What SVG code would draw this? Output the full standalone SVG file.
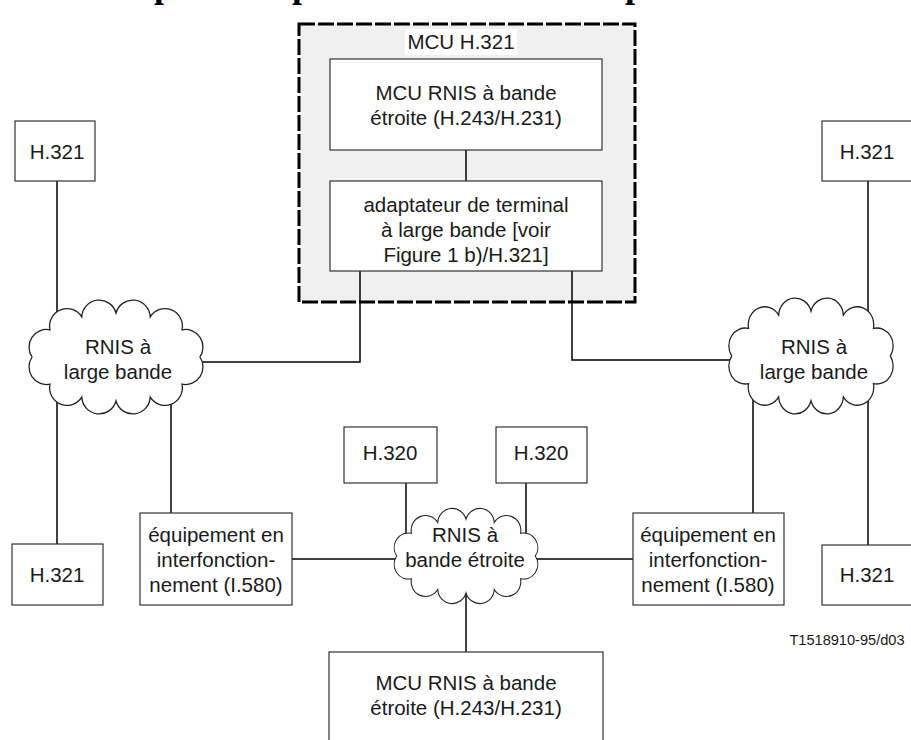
<svg xmlns="http://www.w3.org/2000/svg" width="911" height="740" viewBox="0 0 911 740">
  <style>
    .lbl { font-family: "Liberation Sans", Arial, sans-serif; font-size: 20.5px; fill: #1a1a1a; text-anchor: middle; }
    .small { font-family: "Liberation Sans", Arial, sans-serif; font-size: 14.6px; fill: #1a1a1a; text-anchor: middle; }
    .box { fill: #ffffff; stroke: #333333; stroke-width: 1.2; }
    .wire { fill: none; stroke: #000000; stroke-width: 1.5; }
    .cloud { fill: #ffffff; stroke: #222222; stroke-width: 1.2; }
    .title { font-family: "Liberation Serif", "Times New Roman", serif; font-size: 36px; font-weight: bold; fill: #000000; }
  </style>
  <defs>
    <!-- generic cloud outline centred on the origin, about 172 x 104 -->
    <path id="cloudShape" d="M77 0
      a16 16 0 0 1 -16.4 24.7
      a16 16 0 0 1 -29.2 11.8
      a16 16 0 0 1 -31.4 3.5
      a16 16 0 0 1 -31.4 -3.5
      a16 16 0 0 1 -29.2 -11.8
      a16 16 0 0 1 -16.4 -24.7
      a16 16 0 0 1 16.4 -24.7
      a16 16 0 0 1 29.2 -11.8
      a16 16 0 0 1 31.4 -3.5
      a16 16 0 0 1 31.4 3.5
      a16 16 0 0 1 29.2 11.8
      a16 16 0 0 1 16.4 24.7 Z"/>
  </defs>
  <rect width="911" height="740" fill="#ffffff"/>

  <!-- descenders of the page heading, cut by the top edge -->
  <g id="heading">
    <text class="title" x="154" y="-3">p</text>
    <text class="title" x="292" y="-3">p</text>
    <text class="title" x="625" y="-3">p</text>
  </g>

  <!-- H.321 MCU enclosure -->
  <g id="mcu-h321">
    <rect x="299" y="24" width="336" height="278" fill="#f0f0f0" stroke="#000000" stroke-width="3" stroke-dasharray="16 3"/>
    <rect x="405" y="29" width="112" height="26" fill="#ffffff"/>
    <text class="lbl" x="461" y="49">MCU H.321</text>
  </g>

  <!-- connectors -->
  <g id="connectors">
    <line class="wire" x1="466" y1="150" x2="466" y2="181"/>
    <polyline class="wire" points="360,271 360,362 190,362"/>
    <polyline class="wire" points="572,271 572,360 740,360"/>
    <line class="wire" x1="57" y1="181" x2="57" y2="544"/>
    <line class="wire" x1="868" y1="181" x2="868" y2="545"/>
    <line class="wire" x1="171" y1="395" x2="171" y2="513"/>
    <line class="wire" x1="753" y1="395" x2="753" y2="513"/>
    <line class="wire" x1="292" y1="559" x2="400" y2="559"/>
    <line class="wire" x1="530" y1="559" x2="633" y2="559"/>
    <line class="wire" x1="406" y1="483" x2="406" y2="540"/>
    <line class="wire" x1="526" y1="483" x2="526" y2="540"/>
    <line class="wire" x1="466" y1="590" x2="466" y2="652"/>
  </g>

  <g id="mcu-nb-inner">
    <rect class="box" x="330" y="59" width="272" height="91"/>
    <text class="lbl" x="466" y="100">MCU RNIS à bande</text>
    <text class="lbl" x="466" y="125">étroite (H.243/H.231)</text>
  </g>

  <g id="ta-broadband">
    <rect class="box" x="330" y="181" width="272" height="90"/>
    <text class="lbl" x="466" y="212">adaptateur de terminal</text>
    <text class="lbl" x="466" y="237">à large bande [voir</text>
    <text class="lbl" x="466" y="262">Figure 1 b)/H.321]</text>
  </g>

  <g id="h321-top-left">
    <rect class="box" x="15" y="121" width="80" height="60"/>
    <text class="lbl" x="57" y="159">H.321</text>
  </g>

  <g id="h321-top-right">
    <rect class="box" x="822" y="121" width="92" height="60"/>
    <text class="lbl" x="867" y="159">H.321</text>
  </g>

  <g id="h321-bottom-left">
    <rect class="box" x="12" y="544" width="91" height="61"/>
    <text class="lbl" x="57" y="582">H.321</text>
  </g>

  <g id="h321-bottom-right">
    <rect class="box" x="822" y="545" width="92" height="60"/>
    <text class="lbl" x="867" y="582">H.321</text>
  </g>

  <g id="cloud-bb-left">
    <use href="#cloudShape" class="cloud" transform="translate(116 357) scale(1.09 1.1)"/>
    <text class="lbl" x="118" y="354">RNIS à</text>
    <text class="lbl" x="118" y="379">large bande</text>
  </g>

  <g id="cloud-bb-right">
    <use href="#cloudShape" class="cloud" transform="translate(811 356) scale(1.03 1.12)"/>
    <text class="lbl" x="814" y="354">RNIS à</text>
    <text class="lbl" x="814" y="379">large bande</text>
  </g>

  <g id="h320-left">
    <rect class="box" x="344" y="427" width="93" height="56"/>
    <text class="lbl" x="390" y="460">H.320</text>
  </g>

  <g id="h320-right">
    <rect class="box" x="496" y="427" width="91" height="56"/>
    <text class="lbl" x="541" y="460">H.320</text>
  </g>

  <g id="cloud-nb">
    <use href="#cloudShape" class="cloud" transform="translate(466 556) scale(0.9 0.92)"/>
    <text class="lbl" x="465" y="542">RNIS à</text>
    <text class="lbl" x="465" y="567">bande étroite</text>
  </g>

  <g id="iwf-left">
    <rect class="box" x="140" y="513" width="152" height="92"/>
    <text class="lbl" x="216" y="542">équipement en</text>
    <text class="lbl" x="216" y="567">interfonction-</text>
    <text class="lbl" x="216" y="592">nement (I.580)</text>
  </g>

  <g id="iwf-right">
    <rect class="box" x="633" y="513" width="151" height="92"/>
    <text class="lbl" x="708" y="542">équipement en</text>
    <text class="lbl" x="708" y="567">interfonction-</text>
    <text class="lbl" x="708" y="592">nement (I.580)</text>
  </g>

  <g id="mcu-nb-bottom">
    <rect class="box" x="329" y="652" width="274" height="110"/>
    <text class="lbl" x="466" y="690">MCU RNIS à bande</text>
    <text class="lbl" x="466" y="715">étroite (H.243/H.231)</text>
  </g>

  <text class="small" x="847" y="645">T1518910-95/d03</text>
</svg>
